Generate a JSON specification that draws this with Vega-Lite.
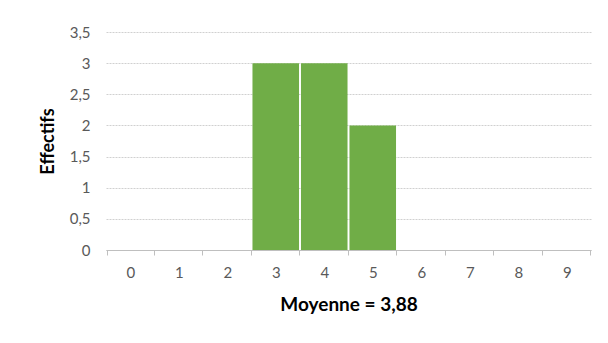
{
  "$schema": "https://vega.github.io/schema/vega-lite/v6.json",
  "autosize": "none",
  "width": 485,
  "height": 218,
  "padding": {"left": 106, "top": 32, "right": 17, "bottom": 93},
  "background": "white",
  "config": {"view": {"stroke": null}, "font": "Lato"},
  "data": {"values": [
    {"moyenne": "0", "effectif": 0},
    {"moyenne": "1", "effectif": 0},
    {"moyenne": "2", "effectif": 0},
    {"moyenne": "3", "effectif": 3},
    {"moyenne": "4", "effectif": 3},
    {"moyenne": "5", "effectif": 2},
    {"moyenne": "6", "effectif": 0},
    {"moyenne": "7", "effectif": 0},
    {"moyenne": "8", "effectif": 0},
    {"moyenne": "9", "effectif": 0}
  ]},
  "mark": {"type": "bar", "color": "#70AD47"},
  "encoding": {
    "x": {
      "field": "moyenne", "type": "ordinal", "sort": null,
      "scale": {"paddingInner": 0.04, "paddingOuter": 0.02},
      "axis": {
        "title": "Moyenne = 3,88", "titleFont": "Lato", "titleFontSize": 19, "titleFontWeight": "bold", "titleColor": "#000000", "titlePadding": 15,
        "labelAngle": 0, "labelFontSize": 15, "labelColor": "#595959", "labelPadding": 10,
        "tickBand": "extent", "tickSize": 5, "tickColor": "#bfbfbf", "domainColor": "#bfbfbf", "grid": false
      }
    },
    "y": {
      "field": "effectif", "type": "quantitative",
      "scale": {"domain": [0, 3.5], "nice": false},
      "axis": {
        "title": "Effectifs", "titleFont": "Lato", "titleFontSize": 18, "titleFontWeight": "bold", "titleColor": "#000000", "titlePadding": 12,
        "values": [0, 0.5, 1, 1.5, 2, 2.5, 3, 3.5],
        "labelExpr": "replace(toString(datum.value), '.', ',')",
        "labelFontSize": 15, "labelColor": "#595959", "labelPadding": 16,
        "ticks": false, "domain": false,
        "gridColor": "#d0d0d0", "gridDash": [2, 1]
      }
    }
  }
}
